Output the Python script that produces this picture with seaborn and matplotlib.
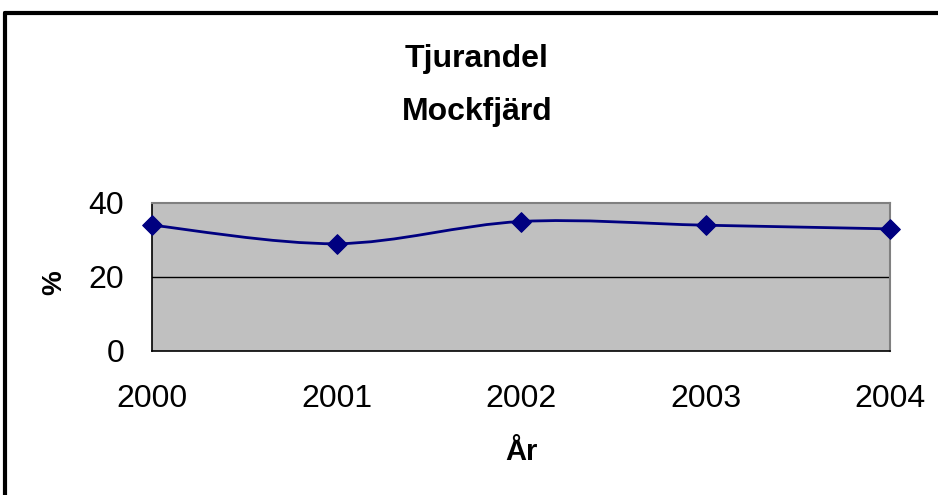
import numpy as np
import pandas as pd
import matplotlib
matplotlib.use("Agg")
import matplotlib.pyplot as plt
import seaborn as sns
from matplotlib.path import Path
from matplotlib.patches import PathPatch

# data
years = [2000, 2001, 2002, 2003, 2004]
tjurandel = [34, 29, 35, 34, 33]
y_ticks = [0, 20, 40]

df = pd.DataFrame({"Year": years, "Pct": tjurandel})

sns.set_style("white")
plt.rcParams["font.family"] = ["Liberation Sans", "DejaVu Sans"]
plt.rcParams["text.color"] = "black"
plt.rcParams["axes.labelcolor"] = "black"
plt.rcParams["xtick.color"] = "black"
plt.rcParams["ytick.color"] = "black"

fig = plt.figure(figsize=(9.38, 4.95), dpi=100)
ax = fig.add_axes([152 / 938, 144 / 495, 738 / 938, 148 / 495])
ax.set_facecolor("#c0c0c0")

# smoothed line (Excel-style Catmull-Rom bezier)
x = np.array(years, dtype=float)
y = np.array(tjurandel, dtype=float)
px = np.concatenate([[x[0]], x, [x[-1]]])
py = np.concatenate([[y[0]], y, [y[-1]]])
verts = [(x[0], y[0])]
codes = [Path.MOVETO]
for i in range(1, len(px) - 2):
    c1 = (px[i] + (px[i + 1] - px[i - 1]) / 6, py[i] + (py[i + 1] - py[i - 1]) / 6)
    c2 = (px[i + 1] - (px[i + 2] - px[i]) / 6, py[i + 1] - (py[i + 2] - py[i]) / 6)
    verts += [c1, c2, (px[i + 1], py[i + 1])]
    codes += [Path.CURVE4] * 3
ax.add_patch(PathPatch(Path(verts, codes), fill=False, edgecolor="#000080", lw=2, zorder=3))

sns.scatterplot(data=df, x="Year", y="Pct", marker="D", s=100, color="#000080",
                edgecolor="#000080", ax=ax, zorder=4, clip_on=False)

ax.axhline(20, color="black", lw=1, zorder=1)

ax.set_xlim(2000, 2004)
ax.set_ylim(0, 40)
ax.set_xticks(years)
ax.set_yticks(y_ticks)
ax.tick_params(axis="both", direction="out", length=10, width=1, color="black",
               labelsize=23)
ax.tick_params(axis="x", pad=14)
ax.tick_params(axis="y", pad=10)
for s in ["top", "right"]:
    ax.spines[s].set_color("#808080")
    ax.spines[s].set_linewidth(1.5)
for s in ["left", "bottom"]:
    ax.spines[s].set_color("black")
    ax.spines[s].set_linewidth(1.2)

ax.set_xlabel("År", fontsize=21, fontweight="bold", va="center")
ax.xaxis.set_label_coords(0.5, (351 - 452) / 148)
ax.set_ylabel("%", fontsize=20, fontweight="bold", va="center")
ax.yaxis.set_label_coords((54 - 152) / 738, (351 - 283) / 148)

fig.text(477 / 938, 1 - 59 / 495, "Tjurandel", ha="center", va="center",
         fontsize=23, fontweight="bold")
fig.text(477 / 938, 1 - 112 / 495, "Mockfjärd", ha="center", va="center",
         fontsize=23, fontweight="bold")

# outer chart-area border (left and top edges visible)
fig.add_artist(plt.Line2D([5 / 938, 5 / 938], [0, 1 - 13 / 495], color="black", lw=3,
                          transform=fig.transFigure))
fig.add_artist(plt.Line2D([5 / 938, 1], [1 - 13 / 495, 1 - 13 / 495], color="black", lw=3,
                          transform=fig.transFigure))

fig.savefig("out.png", dpi=100)
